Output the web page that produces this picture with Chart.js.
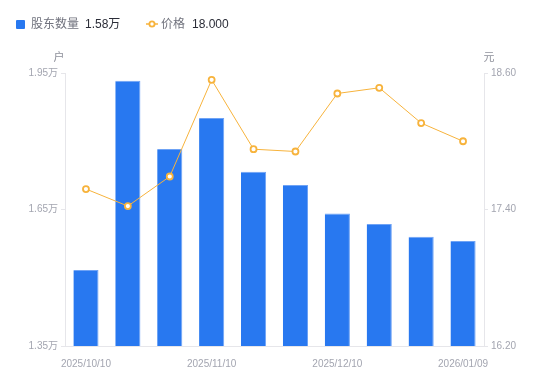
<!DOCTYPE html>
<html>
<head>
<meta charset="utf-8">
<script src="https://cdn.jsdelivr.net/npm/chart.js@4.4.1/dist/chart.umd.min.js"></script>
<style>
  html, body { margin: 0; padding: 0; background: #fff; }
  #wrap { position: relative; width: 550px; height: 381px; }
  #legend { position: absolute; left: 0; top: 0; width: 550px; height: 40px;
    font: 12px "Liberation Sans", Arial, "Noto Sans CJK SC", sans-serif; }
  #legend span { position: absolute; top: 17px; line-height: 14px; white-space: nowrap; }
  .lbl { color: #70727d; }
  .val { color: #2b2d38; }
  .sq { width: 9px; height: 9px; background: #2878f0; border-radius: 1px; top: 20px !important; }
  canvas { position: absolute; left: 0; top: 0; }
</style>
</head>
<body>
<div id="wrap">
  <canvas id="c" width="550" height="381"></canvas>
  <div id="legend">
    <span class="sq" style="left:16px"></span>
    <span class="lbl" style="left:31px">股东数量</span>
    <span class="val" style="left:85px">1.58万</span>
    <span style="left:146px;top:18px"><svg width="12" height="12"><line x1="0" y1="6" x2="12" y2="6" stroke="#f7b33c" stroke-width="1.5"/><circle cx="6" cy="6" r="2.6" fill="#fff" stroke="#f7b33c" stroke-width="1.8"/></svg></span>
    <span class="lbl" style="left:161px">价格</span>
    <span class="val" style="left:192px">18.000</span>
  </div>
</div>
<script>
// 日期
const dates = ['2025/10/10', '2025/10/20', '2025/10/31', '2025/11/10', '2025/11/20',
  '2025/11/28', '2025/12/10', '2025/12/19', '2025/12/31', '2026/01/09'];
// 股东数量 (万户)
const holders = [1.517, 1.933, 1.783, 1.851, 1.733, 1.704, 1.641, 1.618, 1.590, 1.581];
// 价格 (元)
const prices = [17.58, 17.43, 17.69, 18.54, 17.93, 17.91, 18.42, 18.47, 18.16, 18.00];
const leftTicks = [1.35, 1.65, 1.95];
const rightTicks = [16.20, 17.40, 18.60];
const shownLabels = ['2025/10/10', '2025/11/10', '2025/12/10', '2026/01/09'];

const tickColor = '#a3a5b0';
const lineColor = '#e6e6ea';
const tickFont = { family: '"Liberation Sans", Arial, "Noto Sans CJK SC", sans-serif', size: 10 };

const axisTitles = {
  id: 'axisTitles',
  afterDraw(chart) {
    const ctx = chart.ctx;
    ctx.save();
    ctx.fillStyle = '#8e909b';
    ctx.font = '11px "Noto Sans CJK SC", sans-serif';
    ctx.textAlign = 'center';
    ctx.textBaseline = 'middle';
    ctx.fillText('户', chart.chartArea.left - 6, 57);
    ctx.fillText('元', chart.chartArea.right + 5, 57);
    ctx.restore();
  }
};

new Chart(document.getElementById('c'), {
  data: {
    labels: dates,
    datasets: [
      {
        type: 'line',
        label: '价格',
        data: prices,
        yAxisID: 'y1',
        borderColor: '#f7b33c',
        borderWidth: 1,
        pointRadius: 3,
        pointBorderWidth: 1.8,
        pointBackgroundColor: '#fff',
        pointBorderColor: '#f7b33c',
        tension: 0,
        order: 0,
      },
      {
        type: 'bar',
        label: '股东数量',
        data: holders,
        yAxisID: 'y',
        backgroundColor: '#2878f0',
        borderColor: '#6fa3f5',
        borderWidth: { top: 1, right: 1, left: 0, bottom: 0 },
        categoryPercentage: 0.6,
        barPercentage: 1,
        order: 1,
      },
    ],
  },
  options: {
    responsive: false,
    animation: false,
    layout: { padding: { top: 73, left: 0, right: 0, bottom: 0 } },
    plugins: { legend: { display: false }, tooltip: { enabled: false } },
    scales: {
      x: {
        grid: { display: false },
        border: { display: true, color: lineColor },
        afterFit(scale) { scale.height = 35; },
        ticks: {
          color: tickColor,
          font: tickFont,
          maxRotation: 0,
          autoSkip: false,
          padding: 4,
          callback(v) {
            const l = dates[v];
            return shownLabels.includes(l) ? l : '';
          },
        },
      },
      y: {
        position: 'left',
        min: leftTicks[0],
        max: leftTicks[leftTicks.length - 1],
        afterBuildTicks(scale) { scale.ticks = leftTicks.map((v) => ({ value: v })); },
        afterFit(scale) { scale.width = 65; },
        grid: { drawOnChartArea: false, drawTicks: true, tickLength: 4, color: lineColor },
        border: { display: true, color: lineColor },
        ticks: {
          color: tickColor,
          font: tickFont,
          padding: 3,
          callback(v) { return v.toFixed(2) + '万'; },
        },
      },
      y1: {
        position: 'right',
        min: rightTicks[0],
        max: rightTicks[rightTicks.length - 1],
        afterBuildTicks(scale) { scale.ticks = rightTicks.map((v) => ({ value: v })); },
        afterFit(scale) { scale.width = 66; },
        grid: { drawOnChartArea: false, drawTicks: true, tickLength: 4, color: lineColor },
        border: { display: true, color: lineColor },
        ticks: {
          color: tickColor,
          font: tickFont,
          padding: 3,
          callback(v) { return v.toFixed(2); },
        },
      },
    },
  },
  plugins: [axisTitles],
});
</script>
</body>
</html>
